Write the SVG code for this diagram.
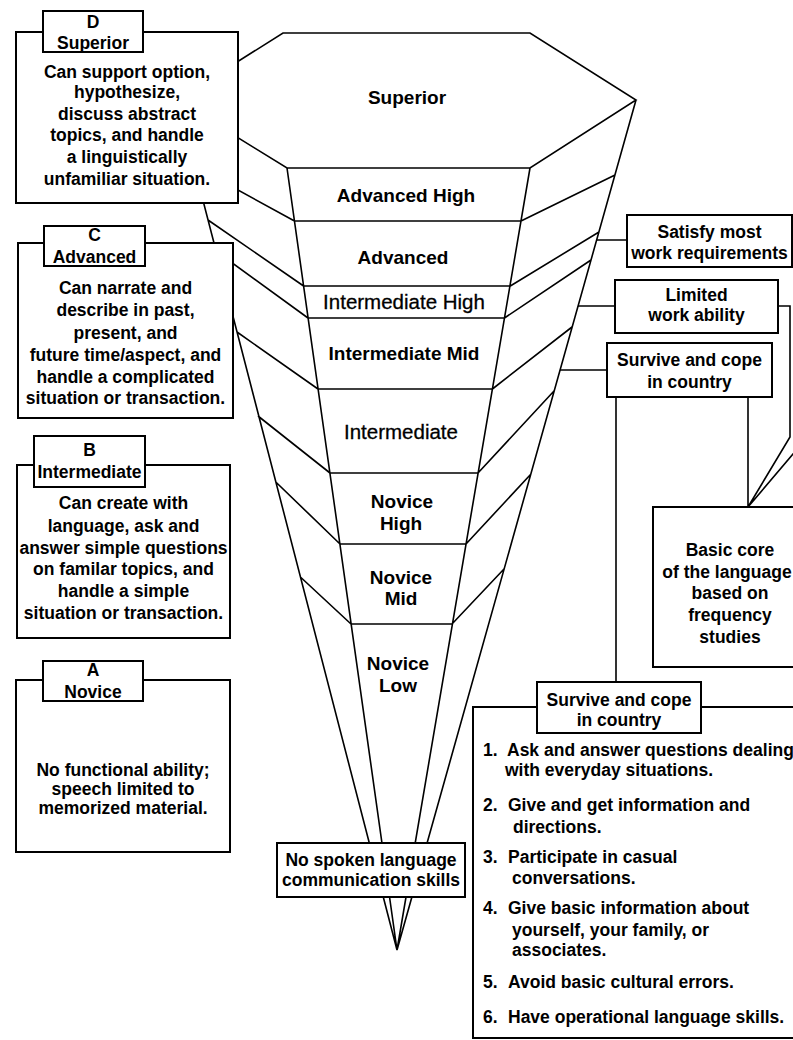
<svg xmlns="http://www.w3.org/2000/svg" width="793" height="1040" viewBox="0 0 793 1040">
<style>
.ln{stroke:#000;stroke-width:1.6;fill:none;stroke-linejoin:miter}
.box{fill:#fff;stroke:#000;stroke-width:2}
.t{font-family:"Liberation Sans",Arial,sans-serif;font-weight:bold;font-size:17.5px;text-anchor:middle;fill:#000}
.s{text-anchor:start}
.c{font-size:19px}
.lt{font-weight:normal;font-size:20.5px;stroke:#000;stroke-width:0.3}
</style>
<rect width="793" height="1040" fill="#fff"/>
<g id="cone">
<path class="ln" d="M283,33 L530,33 L636,100 L530,168 L287,168 L177,100 Z
M287,168 L397,950 M530,168 L397,950 M177,100 L397,950 M636,100 L397,950
M294.5,221 H521 M303.6,286 H510.3 M308,318 H504.5 M318,389 H492.4 M330,473 H478 M340,544 H466 M351,624 H452
M294.5,221 L196,167 M303.6,286 L208,220 M308,318 L220,254 M318,389 L237,332 M330,473 L258,416 M340,544 L275.8,482 M351,624 L300.4,577
M521,221 L615,175 M510.3,286 L599,232 M504.5,318 L591,260 M492.4,389 L572,327 M478,473 L554,391 M466,544 L531,474 M452,624 L504,569"/>
<text class="t c" x="407" y="104">Superior</text>
<text class="t c" x="406" y="202">Advanced High</text>
<text class="t c" x="403" y="264">Advanced</text>
<text class="t lt" x="404" y="309">Intermediate High</text>
<text class="t c" x="404" y="360">Intermediate Mid</text>
<text class="t lt" x="401" y="439">Intermediate</text>
<text class="t c" x="402" y="508">Novice</text>
<text class="t c" x="401" y="530">High</text>
<text class="t c" x="401" y="584">Novice</text>
<text class="t c" x="401" y="605">Mid</text>
<text class="t c" x="398" y="670">Novice</text>
<text class="t c" x="398" y="692">Low</text>
</g>
<g id="connectors">
<path class="ln" d="M597,240 H627 M578,306 H615 M560,370 H607 M792,233 H805 V440 L748,507 M778,306 H790 V437 L748,507 M748,397 V507 M616,397 V682"/>
</g>
<g id="node-d">
<rect class="box" x="16" y="32" width="222" height="171"/>
<rect class="box" x="43" y="11" width="100" height="41"/>
<text class="t" x="93" y="28">D</text>
<text class="t" x="93" y="49">Superior</text>
<text class="t" x="127" y="78">Can support option,</text>
<text class="t" x="127" y="98">hypothesize,</text>
<text class="t" x="127" y="120">discuss abstract</text>
<text class="t" x="127" y="141">topics,  and handle</text>
<text class="t" x="127" y="163">a  linguistically</text>
<text class="t" x="127" y="185">unfamiliar situation.</text>
</g>
<g id="node-c">
<rect class="box" x="18" y="243" width="215" height="175"/>
<rect class="box" x="44" y="226" width="101" height="40"/>
<text class="t" x="94.5" y="241">C</text>
<text class="t" x="94.5" y="263">Advanced</text>
<text class="t" x="125.5" y="294">Can narrate and</text>
<text class="t" x="125.5" y="316">describe in past,</text>
<text class="t" x="125.5" y="339">present, and</text>
<text class="t" x="125.5" y="361">future time/aspect, and</text>
<text class="t" x="125.5" y="383">handle a complicated</text>
<text class="t" x="125.5" y="404">situation or transaction.</text>
</g>
<g id="node-b">
<rect class="box" x="17" y="465" width="213" height="173"/>
<rect class="box" x="34" y="436" width="111" height="51"/>
<text class="t" x="89.5" y="456">B</text>
<text class="t" x="89.5" y="478">Intermediate</text>
<text class="t" x="123.5" y="509">Can create with</text>
<text class="t" x="123.5" y="532">language, ask and</text>
<text class="t" x="123.5" y="554">answer simple questions</text>
<text class="t" x="123.5" y="575">on familar topics, and</text>
<text class="t" x="123.5" y="597">handle a simple</text>
<text class="t" x="123.5" y="619">situation or transaction.</text>
</g>
<g id="node-a">
<rect class="box" x="16" y="680" width="214" height="172"/>
<rect class="box" x="43" y="661" width="100" height="40"/>
<text class="t" x="93" y="676">A</text>
<text class="t" x="93" y="698">Novice</text>
<text class="t" x="123" y="776">No functional ability;</text>
<text class="t" x="123" y="795">speech limited to</text>
<text class="t" x="123" y="814">memorized material.</text>
</g>
<g id="node-none">
<rect class="box" x="277" y="843" width="188" height="54"/>
<text class="t" x="371" y="866">No spoken language</text>
<text class="t" x="371" y="886">communication skills</text>
</g>
<g id="node-satisfy">
<rect class="box" x="627" y="215" width="165" height="52"/>
<text class="t" x="709.5" y="238">Satisfy most</text>
<text class="t" x="709.5" y="259">work requirements</text>
</g>
<g id="node-limited">
<rect class="box" x="615" y="280" width="163" height="53"/>
<text class="t" x="696.5" y="301">Limited</text>
<text class="t" x="696.5" y="321">work ability</text>
</g>
<g id="node-survive">
<rect class="box" x="607" y="343" width="165" height="54"/>
<text class="t" x="689.5" y="366">Survive and cope</text>
<text class="t" x="689.5" y="388">in country</text>
</g>
<g id="node-core">
<rect class="box" x="653" y="507" width="160" height="160"/>
<text class="t" x="730" y="556">Basic core</text>
<text class="t" x="727" y="578">of the language</text>
<text class="t" x="730" y="599">based on</text>
<text class="t" x="730" y="621">frequency</text>
<text class="t" x="730" y="643">studies</text>
</g>
<g id="node-list">
<rect class="box" x="473" y="707" width="340" height="331"/>
<rect class="box" x="537" y="682" width="164" height="51"/>
<text class="t" x="619" y="706">Survive and cope</text>
<text class="t" x="619" y="726">in country</text>
<text class="t s" x="483" y="756">1.</text><text class="t s" x="507" y="756">Ask and answer questions dealing</text>
<text class="t s" x="505" y="776">with everyday situations.</text>
<text class="t s" x="483" y="811">2.</text><text class="t s" x="508" y="811">Give and get information and</text>
<text class="t s" x="513" y="833">directions.</text>
<text class="t s" x="483" y="863">3.</text><text class="t s" x="508" y="863">Participate in casual</text>
<text class="t s" x="512" y="884">conversations.</text>
<text class="t s" x="483" y="914">4.</text><text class="t s" x="508" y="914">Give basic information about</text>
<text class="t s" x="512" y="936">yourself, your family, or</text>
<text class="t s" x="512" y="956">associates.</text>
<text class="t s" x="483" y="988">5.</text><text class="t s" x="508" y="988">Avoid basic cultural errors.</text>
<text class="t s" x="483" y="1023">6.</text><text class="t s" x="508" y="1023">Have operational language skills.</text>
</g>
</svg>
